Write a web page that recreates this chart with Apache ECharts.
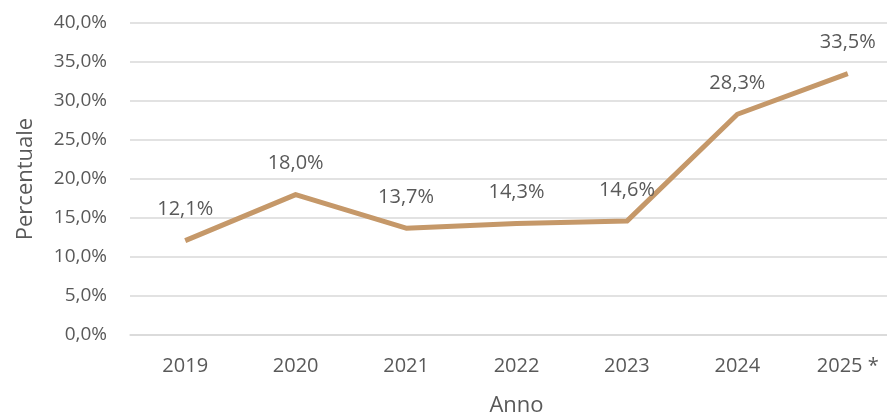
<!DOCTYPE html>
<html><head><meta charset="utf-8">
<script src="https://cdn.jsdelivr.net/npm/echarts@6/dist/echarts.min.js"></script>
<style>html,body{margin:0;padding:0;background:#fff}#c{width:887px;height:415px}</style>
</head><body><div id="c"></div>
<script>
var categories = ['2019','2020','2021','2022','2023','2024','2025 *'];
var values = [12.1, 18.0, 13.7, 14.3, 14.6, 28.3, 33.5];
var yTicks = {min: 0, max: 40, interval: 5};

var fmt = function(v){ return v.toFixed(1).replace('.', ',') + '%'; };
var font = '"Open Sans", sans-serif';
var chart = echarts.init(document.getElementById('c'));
chart.setOption({
  animation: false,
  grid: {left: 130, top: 23, width: 773, height: 312, outerBoundsMode: 'none', containLabel: false},
  xAxis: {
    type: 'category', data: categories, boundaryGap: true,
    name: 'Anno', nameLocation: 'middle', nameGap: 60,
    nameTextStyle: {color: '#595959', fontSize: 22, fontFamily: font},
    axisLine: {show: true, lineStyle: {color: '#d9d9d9', width: 1.5}},
    axisTick: {show: false},
    axisLabel: {color: '#595959', fontSize: 20, fontFamily: font, margin: 21}
  },
  yAxis: {
    type: 'value', min: yTicks.min, max: yTicks.max, interval: yTicks.interval,
    name: 'Percentuale', nameLocation: 'middle', nameGap: 93, nameRotate: 90,
    nameTextStyle: {color: '#595959', fontSize: 22, fontFamily: font},
    axisLine: {show: false}, axisTick: {show: false},
    splitLine: {lineStyle: {color: '#d9d9d9', width: 1.5}},
    axisLabel: {color: '#595959', fontSize: 19, fontFamily: font, margin: 23, formatter: fmt}
  },
  series: [{
    type: 'line', data: values, symbol: 'circle', symbolSize: 2, showSymbol: true,
    itemStyle: {color: 'rgba(0,0,0,0)', borderWidth: 0},
    lineStyle: {color: '#C59869', width: 5, join: 'round'},
    label: {show: true, position: 'top', distance: 20, color: '#595959', fontSize: 20, fontFamily: font,
      formatter: function(p){ return fmt(p.value); }}
  }]
});
</script></body></html>
